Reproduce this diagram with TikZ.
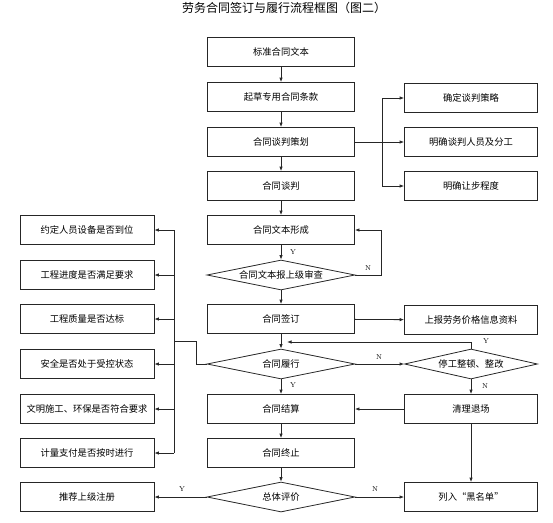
\documentclass[tikz,border=0pt]{standalone}
\usepackage{fontspec}
\newfontfamily\cjk{Noto Sans CJK SC}
\usetikzlibrary{shapes.geometric,arrows.meta}

\tikzset{
  box/.style={draw=black!85, line width=0.8pt, minimum width=147pt, minimum height=29pt,
    inner sep=0pt, font=\cjk\fontsize{9.3}{11}\selectfont},
  sidebox/.style={box, minimum width=133pt},
  check/.style={diamond, draw=black!85, line width=0.8pt, aspect=5, minimum width=148pt,
    minimum height=30pt, inner sep=0pt, font=\cjk\fontsize{9.3}{11}\selectfont},
  flow/.style={-{Latex[length=4.5pt,width=3.5pt]}, line width=0.8pt, black!85},
  link/.style={line width=0.8pt, black!85},
  yn/.style={font=\fontsize{7}{8}\selectfont}
}

\begin{document}
\begin{tikzpicture}[x=1pt,y=-1pt]
    \useasboundingbox (0,0) rectangle (553,522);
    \def\cx{281}
    \def\rx{471}
    \def\lx{87}

    \node (title) at (284,8) {\cjk\fontsize{12}{13}\selectfont 劳务合同签订与履行流程框图（图二）};

    % main column
    \node[box] (std)    at (\cx,52)  {标准合同文本};
    \node[box] (draft)  at (\cx,97)  {起草专用合同条款};
    \node[box] (plan)   at (\cx,142) {合同谈判策划};
    \node[box] (talk)   at (\cx,186) {合同谈判};
    \node[box] (text)   at (\cx,230) {合同文本形成};
    \node[check] (review) at (\cx,275) {合同文本报上级审查};
    \node[box] (sign)   at (\cx,319) {合同签订};
    \node[check] (exec) at (\cx,364) {合同履行};
    \node[box] (settle) at (\cx,409) {合同结算};
    \node[box] (term)   at (\cx,453) {合同终止};
    \node[check] (eval) at (\cx,497) {总体评价};

    % right column
    \node[sidebox] (strat) at (\rx,98)  {确定谈判策略};
    \node[sidebox] (staff) at (\rx,142) {明确谈判人员及分工};
    \node[sidebox] (conc)  at (\rx,186) {明确让步程度};
    \node[sidebox] (price) at (\rx,320) {上报劳务价格信息资料};
    \node[check, minimum width=133pt] (stop) at (\rx,364) {停工整顿、整改};
    \node[sidebox] (leave) at (\rx,409) {清理退场};
    \node[sidebox] (blist) at (\rx,497) {列入“黑名单”};

    % left column
    \node[sidebox, minimum width=134pt] (crew)  at (\lx,230) {约定人员设备是否到位};
    \node[sidebox, minimum width=134pt] (prog)  at (\lx,275) {工程进度是否满足要求};
    \node[sidebox, minimum width=134pt] (qual)  at (\lx,319) {工程质量是否达标};
    \node[sidebox, minimum width=134pt] (safe)  at (\lx,364) {安全是否处于受控状态};
    \node[sidebox, minimum width=134pt] (green) at (\lx,409) {文明施工、环保是否符合要求};
    \node[sidebox, minimum width=134pt] (pay)   at (\lx,453) {计量支付是否按时进行};
    \node[sidebox, minimum width=134pt] (reco)  at (\lx,497) {推荐上级注册};

    % main flow
    \draw[flow] (std) -- (draft);
    \draw[flow] (draft) -- (plan);
    \draw[flow] (plan) -- (talk);
    \draw[flow] (talk) -- (text);
    \draw[flow] (text) -- (review);
    \draw[flow] (review) -- (sign);
    \draw[flow] (sign) -- (exec);
    \draw[flow] (exec) -- (settle);
    \draw[flow] (settle) -- (term);
    \draw[flow] (term) -- (eval);
    \node[yn] (y1) at (293,252) {Y};
    \node[yn] (y2) at (293,385) {Y};

    % planning branch
    \coordinate (fork) at (382,142);
    \draw[link] (plan) -- (fork);
    \draw[flow] (fork) |- (strat);
    \draw[flow] (fork) -- (staff);
    \draw[flow] (fork) |- (conc);

    % review loop
    \coordinate (back) at (381,275);
    \draw[flow] (review.east) -- (back) |- (text.east);
    \node[yn] (n1) at (368,268) {N};

    \draw[flow] (sign) -- (price);

    % stop branch
    \draw[flow] (exec) -- (stop);
    \node[yn] (n2) at (379,357) {N};
    \coordinate (ytip) at (287,342);
    \draw[flow] (stop.north) |- (ytip);
    \node[yn] (y3) at (486,341) {Y};
    \draw[flow] (stop) -- (leave);
    \node[yn] (n3) at (485,386) {N};
    \draw[flow] (leave) -- (settle);
    \draw[flow] (leave) -- (blist);

    % evaluation
    \draw[flow] (eval) -- (blist);
    \node[yn] (n4) at (375,489) {N};
    \draw[flow] (eval) -- (reco);
    \node[yn] (y4) at (182,489) {Y};

    % checks during execution
    \coordinate (bus) at (174,0);
    \coordinate (bend) at (196,341);
    \draw[link] (exec.west) -| (bend) -- (bend -| bus);
    \draw[link] (crew.east -| bus) -- (pay.east -| bus);
    \foreach \n in {crew,prog,qual,safe,green,pay}
      \draw[flow] (\n.east -| bus) -- (\n.east);
\end{tikzpicture}
\end{document}
